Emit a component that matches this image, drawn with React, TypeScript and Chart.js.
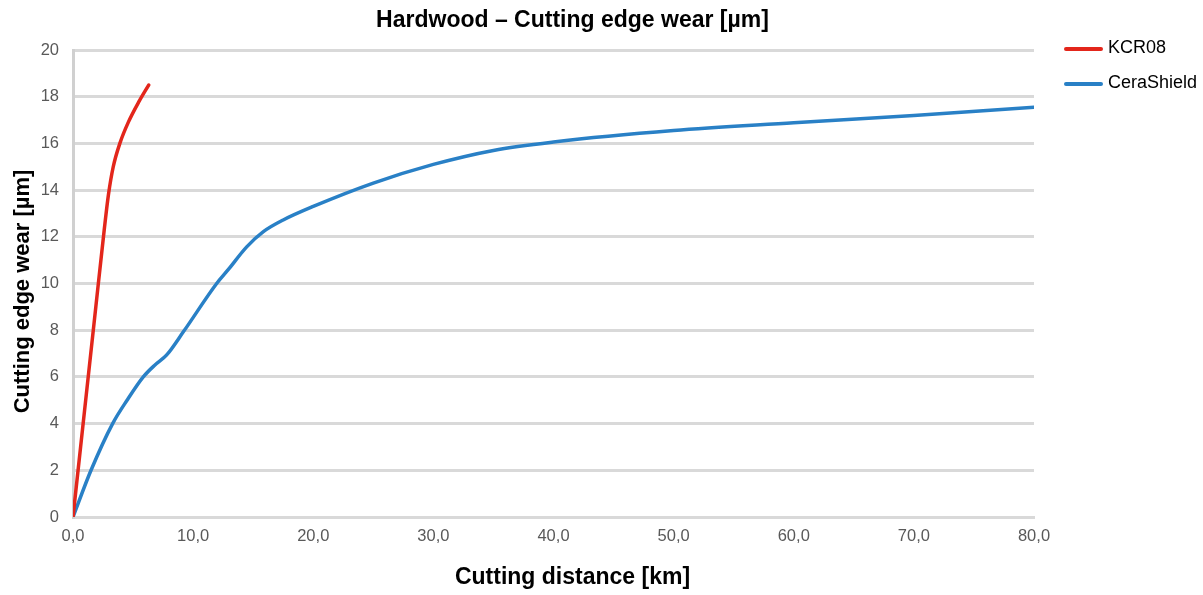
import React, { useEffect, useRef } from "react";
import { Chart, registerables } from "chart.js";

Chart.register(...registerables);

const TITLE = "Hardwood – Cutting edge wear [µm]";
const X_TITLE = "Cutting distance [km]";
const Y_TITLE = "Cutting edge wear [µm]";

const SERIES_NAMES = ["KCR08", "CeraShield"];
const SERIES_COLORS = ["#E3261B", "#2980C6"];

const KCR08_X = [0, 1.9, 2.6, 2.95, 3.35, 3.9, 4.6, 5.5, 6.3];
const KCR08_Y = [0, 9, 12.3, 13.8, 15, 16, 16.9, 17.8, 18.5];

const CERA_X = [0, 1.5, 3.3, 4.5, 5.85, 6.8, 7.8, 9.2, 11.96, 12.9, 14.46, 15.85, 17.5, 20, 25, 30, 35, 40, 50, 60, 70, 80];
const CERA_Y = [0, 2, 4, 5, 6, 6.5, 6.94, 7.94, 10.0, 10.58, 11.57, 12.22, 12.72, 13.3, 14.3, 15.1, 15.7, 16.06, 16.55, 16.88, 17.2, 17.55];

const X_MIN = 0, X_MAX = 80, X_STEP = 10;
const Y_MIN = 0, Y_MAX = 20, Y_STEP = 2;

const FONT = '"Liberation Sans", Arial, Helvetica, sans-serif';

const toPoints = (xs: number[], ys: number[]) => xs.map((x, i) => ({ x, y: ys[i] }));

const overlay = {
  id: "overlay",
  afterDraw(chart: any) {
    const { ctx, chartArea } = chart;
    ctx.save();
    ctx.fillStyle = "#000";
    ctx.textAlign = "center";
    ctx.textBaseline = "middle";
    const cx = (chartArea.left + chartArea.right) / 2 + 19;
    ctx.font = `bold 23px ${FONT}`;
    ctx.fillText(TITLE, cx, 21);
    ctx.fillText(X_TITLE, cx, 578);
    ctx.save();
    ctx.translate(23, (chartArea.top + chartArea.bottom) / 2 + 8);
    ctx.rotate(-Math.PI / 2);
    ctx.font = `bold 22px ${FONT}`;
    ctx.fillText(Y_TITLE, 0, 0);
    ctx.restore();
    // legend
    ctx.textAlign = "left";
    ctx.font = `18px ${FONT}`;
    SERIES_NAMES.forEach((name, i) => {
      const y = 49 + i * 35;
      ctx.strokeStyle = SERIES_COLORS[i];
      ctx.lineWidth = 4;
      ctx.lineCap = "round";
      ctx.beginPath();
      ctx.moveTo(1066, y);
      ctx.lineTo(1101, y);
      ctx.stroke();
      ctx.fillStyle = "#000";
      ctx.fillText(name, 1108, y - 1);
    });
    ctx.restore();
  },
};

export default function App() {
  const ref = useRef<HTMLCanvasElement | null>(null);
  useEffect(() => {
    document.body.style.margin = "0";
    const chart = new Chart(ref.current as HTMLCanvasElement, {
      type: "scatter",
      data: {
        datasets: [
          {
            label: SERIES_NAMES[0],
            data: toPoints(KCR08_X, KCR08_Y),
            borderColor: SERIES_COLORS[0],
            backgroundColor: SERIES_COLORS[0],
            borderWidth: 3.5,
            showLine: true,
            pointRadius: 0,
            cubicInterpolationMode: "monotone",
            borderCapStyle: "round",
          },
          {
            label: SERIES_NAMES[1],
            data: toPoints(CERA_X, CERA_Y),
            borderColor: SERIES_COLORS[1],
            backgroundColor: SERIES_COLORS[1],
            borderWidth: 3.5,
            showLine: true,
            pointRadius: 0,
            cubicInterpolationMode: "monotone",
            borderCapStyle: "round",
          },
        ],
      },
      options: {
        animation: false,
        responsive: true,
        maintainAspectRatio: false,
        layout: { padding: { top: 50, right: 169, left: 0, bottom: 0 } },
        plugins: {
          legend: { display: false },
          title: { display: false },
          tooltip: { enabled: false },
        },
        scales: {
          x: {
            type: "linear",
            min: X_MIN,
            max: X_MAX,
            afterFit: (s: any) => { s.height = 78; },
            ticks: {
              stepSize: X_STEP,
              color: "#595959",
              font: { family: FONT, size: 16.5 },
              padding: 10,
              callback: (v: any) => Number(v).toFixed(1).replace(".", ","),
            },
            grid: { display: false, drawTicks: false },
            border: { display: true, color: "#D9D9D9", width: 3 },
          },
          y: {
            type: "linear",
            min: Y_MIN,
            max: Y_MAX,
            afterFit: (s: any) => { s.width = 73; },
            ticks: {
              stepSize: Y_STEP,
              color: "#595959",
              font: { family: FONT, size: 16.5 },
              padding: 14,
            },
            grid: { color: "#D9D9D9", lineWidth: 3, drawTicks: false },
            border: { display: true, color: "#D0D0D0", width: 3 },
          },
        },
      },
      plugins: [overlay],
    });
    return () => chart.destroy();
  }, []);
  return (
    <div style={{ width: "1203px", height: "595px", position: "relative" }}>
      <canvas ref={ref} />
    </div>
  );
}
